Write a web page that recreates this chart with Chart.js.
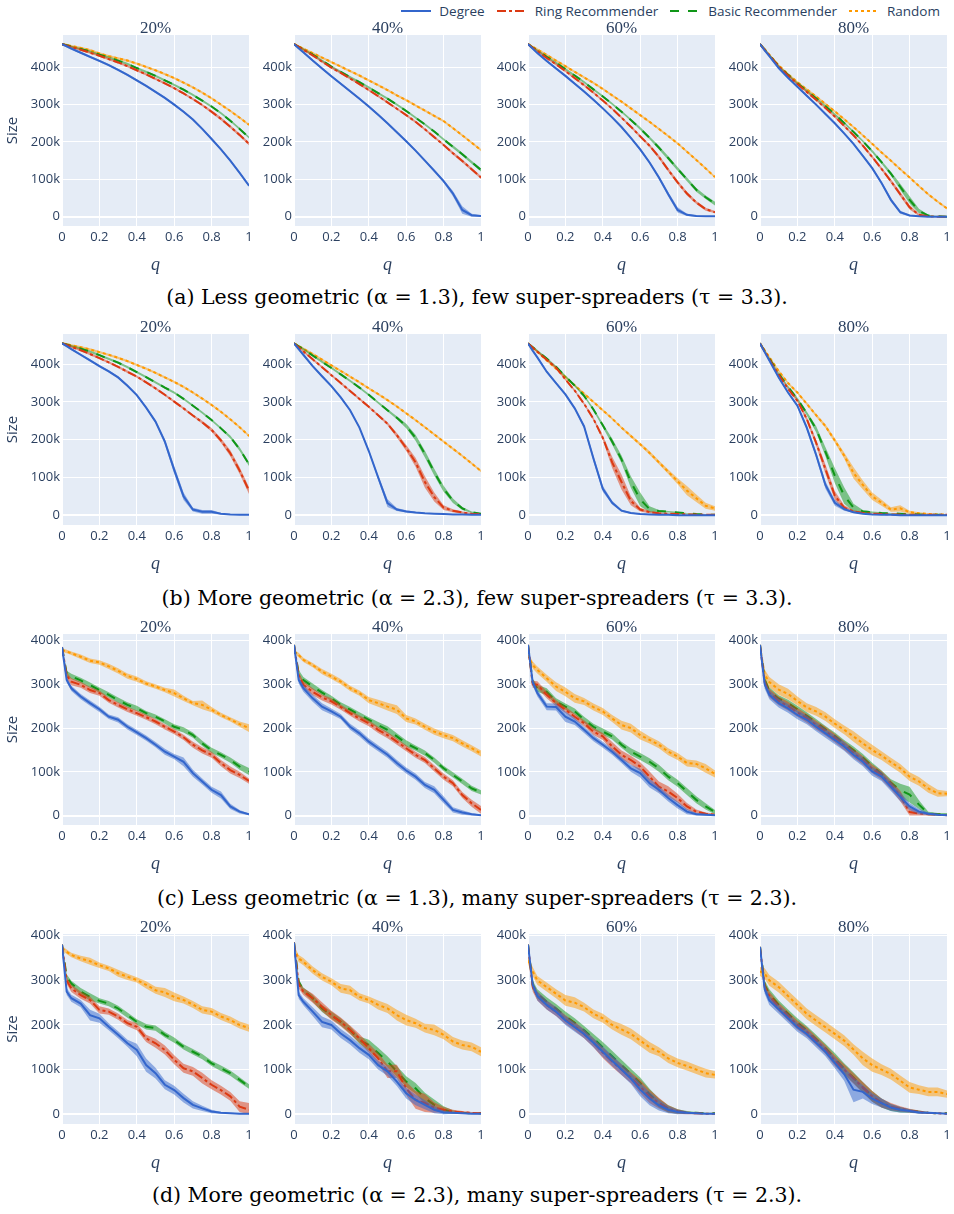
<!DOCTYPE html>
<html>
<head>
<meta charset="utf-8">
<script src="https://cdn.jsdelivr.net/npm/chart.js@4.4.0/dist/chart.umd.min.js"></script>
<style>
	body { margin: 0; background: #fff; width: 954px; height: 1214px; position: relative; overflow: hidden; font-family: "Open Sans", sans-serif; }
	canvas { position: absolute; }
	.ptitle { position: absolute; width: 120px; text-align: center; font-family: "Liberation Serif", serif; font-size: 17px; line-height: 16px; color: #2a3f5f; }
	.caption { position: absolute; left: 0; width: 954px; text-align: center; font-family: "DejaVu Serif", serif; font-size: 20.5px; line-height: 26px; color: #000; }
	#legend { position: absolute; top: 2px; right: 14px; display: flex; align-items: center; font-size: 13.5px; color: #2a3f5f; }
	#legend .item { display: flex; align-items: center; margin-left: 12px; }
	#legend svg { margin-right: 8px; }
</style>
</head>
<body>
<div id="legend"></div>
<script>
// ---- data (sizes in thousands) ----
var Q = [0, 0.025, 0.05, 0.1, 0.15, 0.2, 0.25, 0.3, 0.35, 0.4, 0.45, 0.5, 0.55, 0.6, 0.65, 0.7, 0.75, 0.8, 0.85, 0.9, 0.95, 1];
var SERIES_NAMES = ['Degree', 'Ring Recommender', 'Basic Recommender', 'Random'];
var SERIES_KEYS = ['deg', 'ring', 'basic', 'rand'];
var ROW_KEYS = ['a', 'b', 'c', 'd'];
var PANEL_TITLES = ['20%', '40%', '60%', '80%'];
var X_TICKS = [0, 0.2, 0.4, 0.6, 0.8, 1];
var Y_TICKS = [0, 100, 200, 300, 400];
var CAPTIONS = [
	'(a) Less geometric (α = 1.3), few super-spreaders (τ = 3.3).',
	'(b) More geometric (α = 2.3), few super-spreaders (τ = 3.3).',
	'(c) Less geometric (α = 1.3), many super-spreaders (τ = 2.3).',
	'(d) More geometric (α = 2.3), many super-spreaders (τ = 2.3).'
];

// (a) less geometric, few super-spreaders
var a20_deg = [462,456,450,439,428, 417,406,393,380,365, 350,334,318,300,281, 260,235,208,180,150, 117,83];
var a20_deg_e = [3,3,3,3,3, 3,3,3,3,3, 3,3,3,3,3, 3,3,3,3,3, 3,3];
var a20_ring = [462,458,454,447,439, 431,422,413,403,392, 381,369,357,344,330, 315,299,281,262,241, 219,195];
var a20_ring_e = [3,3,3,3,3, 3,3,3,3,3, 3,3,3,3,3, 3,3,4,4,4, 4,4];
var a20_basic = [462,459,455,449,442, 434,426,418,409,398, 388,377,365,353,340, 326,311,295,277,257, 235,212];
var a20_basic_e = [3,3,3,3,3, 3,3,3,3,3, 3,3,3,3,3, 3,3,3,3,3, 3,3];
var a20_rand = [462,460,457,452,446, 437,430,424,418,410, 401,392,382,371,359, 346,332,317,300,283, 265,246];
var a20_rand_e = [3,3,3,3,3, 3,3,3,3,3, 3,3,3,3,3, 3,3,3,3,3, 3,3];

var a40_deg = [462,451,440,418,397, 376,356,336,316,295, 273,250,226,202,177, 150,123,95,62,18, 4,2];
var a40_deg_e = [3,3,3,3,3, 3,3,3,3,3, 3,3,3,3,3, 3,3,4,7,10, 4,2];
var a40_ring = [462,455,447,432,415, 399,385,370,355,339, 323,306,289,272,254, 234,213,192,170,149, 127,105];
var a40_ring_e = [3,3,3,3,3, 3,3,3,3,3, 3,3,3,3,3, 3,3,3,4,4, 4,4];
var a40_basic = [462,455,448,434,418, 402,388,374,360,346, 331,316,300,283,265, 247,228,207,187,167, 146,125];
var a40_basic_e = [3,3,3,3,3, 3,3,3,3,3, 3,3,3,3,3, 3,3,3,4,4, 4,4];
var a40_rand = [462,456,450,438,426, 414,402,390,378,365, 352,339,325,312,298, 284,270,256,237,218, 198,178];
var a40_rand_e = [3,3,3,3,3, 3,3,3,3,3, 3,3,3,3,3, 3,3,3,3,3, 3,3];

var a60_deg = [462,450,438,417,397, 377,356,335,313,290, 266,240,211,180,145, 105,60,18,5,2, 1,1];
var a60_deg_e = [3,3,3,3,3, 3,3,3,3,3, 3,3,3,4,4, 5,6,7,3,2, 1,1];
var a60_ring = [462,452,443,425,408, 390,371,352,332,311, 289,265,241,215,190, 160,125,92,62,38, 20,12];
var a60_ring_e = [3,3,3,3,3, 3,3,3,3,3, 3,3,3,4,4, 5,5,5,5,4, 4,3];
var a60_basic = [462,453,445,428,412, 395,378,360,341,322, 302,281,259,236,211, 185,157,128,100,72, 52,35];
var a60_basic_e = [3,3,3,3,3, 3,3,3,3,3, 3,3,3,4,4, 5,5,5,5,5, 5,5];
var a60_rand = [462,455,448,433,418, 403,388,373,358,342, 325,308,290,272,254, 235,216,196,174,152, 129,106];
var a60_rand_e = [3,3,3,3,3, 3,3,3,3,3, 3,3,3,3,3, 3,3,3,3,3, 3,3];

var a80_deg = [462,445,430,398,372, 348,324,300,275,250, 223,195,163,130,90, 45,12,3,1,0, 0,0];
var a80_deg_e = [3,3,3,3,3, 3,3,3,3,3, 3,3,3,4,4, 5,4,2,1,0, 0,0];
var a80_ring = [462,447,432,402,378, 355,334,313,291,268, 243,218,190,160,128, 95,60,25,5,1, 0,0];
var a80_ring_e = [3,3,3,3,3, 3,3,3,3,3, 3,3,3,4,4, 5,6,6,3,1, 0,0];
var a80_basic = [462,448,433,403,380, 357,337,317,296,274, 251,227,202,175,146, 115,80,45,15,3, 1,0];
var a80_basic_e = [3,3,3,3,3, 3,3,3,3,3, 3,3,3,4,4, 5,8,10,6,2, 1,0];
var a80_rand = [462,448,434,405,382, 360,341,322,302,282, 261,240,218,195,172, 150,127,105,82,60, 40,22];
var a80_rand_e = [3,3,3,3,3, 3,3,3,3,3, 3,3,3,3,3, 3,3,3,3,3, 3,3];

// (b) more geometric, few super-spreaders
var b20_deg = [455,448,440,425,410, 395,381,365,343,318, 285,248,195,120,50, 15,9,9,4,2, 1,1];
var b20_deg_e = [3,3,3,3,3, 3,3,3,3,3, 3,4,7,10,10, 5,5,5,2,1, 1,1];
var b20_ring = [455,451,446,437,427, 416,405,393,380,367, 352,336,319,301,283, 264,246,226,198,164, 118,65];
var b20_ring_e = [3,3,3,3,3, 3,3,3,3,3, 3,3,3,3,3, 3,4,5,6,8, 9,9];
var b20_basic = [455,452,448,441,433, 424,414,404,392,379, 366,352,338,325,308, 290,272,252,230,207, 175,135];
var b20_basic_e = [3,3,3,3,3, 3,3,3,3,3, 3,3,3,3,3, 3,3,3,3,4, 5,5];
var b20_rand = [455,453,450,445,439, 432,425,417,408,398, 388,377,365,353,340, 325,309,292,274,254, 233,210];
var b20_rand_e = [3,3,3,3,3, 3,3,3,3,3, 3,3,3,3,3, 3,3,3,3,3, 3,3];

var b40_deg = [455,440,425,395,368, 342,312,278,232,170, 100,32,15,10,7, 5,4,3,2,2, 1,1];
var b40_deg_e = [3,3,3,3,3, 3,3,3,3,4, 6,10,4,3,2, 1,1,1,1,1, 1,1];
var b40_ring = [455,445,434,413,392, 371,350,329,308,287, 265,242,212,178,140, 88,48,20,12,7, 4,3];
var b40_ring_e = [3,3,3,3,3, 3,3,3,3,3, 3,4,6,8,12, 15,12,6,4,3, 2,1];
var b40_basic = [455,447,440,423,406, 390,373,356,338,319, 298,278,258,236,205, 162,114,70,38,18, 8,4];
var b40_basic_e = [3,3,3,3,3, 3,3,3,3,3, 3,3,4,6,8, 9,9,8,6,4, 2,1];
var b40_rand = [455,448,441,427,412, 397,382,367,352,336, 321,305,288,270,252, 233,214,195,176,157, 137,117];
var b40_rand_e = [3,3,3,3,3, 3,3,3,3,3, 3,3,3,3,3, 3,3,3,3,3, 3,3];

var b60_deg = [455,436,418,380,350, 320,283,235,150,70, 33,12,6,3,2, 1,1,0,0,0, 0,0];
var b60_deg_e = [3,3,3,3,3, 3,3,5,8,8, 5,3,2,1,1, 1,1,0,0,0, 0,0];
var b60_ring = [455,444,433,412,391, 360,330,295,255,205, 140,88,38,15,8, 5,4,3,2,2, 1,1];
var b60_ring_e = [3,3,3,3,3, 3,3,3,4,6, 15,20,12,5,3, 2,1,1,1,1, 1,1];
var b60_basic = [455,445,435,415,393, 368,343,316,280,238, 195,148,88,42,16, 11,9,7,5,3, 2,1];
var b60_basic_e = [3,3,3,3,3, 3,3,3,4,5, 8,10,15,18,8, 3,2,2,1,1, 1,1];
var b60_rand = [455,444,433,410,388, 366,344,322,300,278, 256,232,210,188,165, 140,115,90,65,45, 25,18];
var b60_rand_e = [3,3,3,3,3, 3,3,3,3,3, 3,3,4,4,5, 5,6,8,12,10, 8,6];

var b80_deg = [455,432,410,365,325, 290,232,160,80,33, 16,8,4,2,1, 1,0,0,0,0, 0,0];
var b80_deg_e = [3,3,3,3,3, 4,6,8,10,8, 4,2,1,1,1, 1,0,0,0,0, 0,0];
var b80_ring = [455,434,413,372,335, 303,255,192,122,52, 20,10,6,4,3, 2,2,1,1,1, 1,1];
var b80_ring_e = [3,3,3,3,3, 4,6,8,12,12, 6,3,2,1,1, 1,1,1,1,1, 1,1];
var b80_basic = [455,435,415,375,340, 308,270,228,168,105, 52,20,10,8,6, 5,4,3,2,1, 1,1];
var b80_basic_e = [3,3,3,3,3, 4,5,8,12,20, 22,10,4,2,2, 1,1,1,1,1, 1,1];
var b80_rand = [455,437,419,382,350, 325,295,265,236,198, 158,112,80,50,33, 15,18,8,5,3, 2,2];
var b80_rand_e = [3,3,3,3,3, 3,4,4,5,6, 8,15,12,10,8, 6,8,4,3,2, 1,1];

// (c) less geometric, many super-spreaders
var c20_deg = [385,310,291,272,257, 243,226,219,203,190, 177,162,146,135,123, 97,78,59,47,21, 9,3];
var c20_deg_e = [2,6,6,6,6, 6,5,6,6,6, 6,6,7,6,10, 8,7,7,8,6, 4,2];
var c20_ring = [385,320,306,299,287, 280,264,253,243,234, 225,215,203,192,179, 162,149,139,120,104, 93,79];
var c20_ring_e = [2,8,8,7,7, 6,6,6,6,6, 6,6,6,6,6, 7,7,7,7,8, 7,6];
var c20_basic = [385,325,318,309,298, 287,276,264,253,245, 234,226,215,203,196, 184,165,149,139,127, 112,101];
var c20_basic_e = [2,6,6,6,6, 6,6,6,6,6, 5,5,5,6,6, 6,6,6,6,6, 7,8];
var c20_rand = [378,375,371,363,354, 350,341,331,319,312, 302,295,287,280,268, 257,253,242,230,220, 209,200];
var c20_rand_e = [4,4,4,5,5, 5,6,6,6,6, 5,5,5,8,6, 5,10,6,5,5, 6,9];

var c40_deg = [390,310,291,268,249, 238,226,203,188,169, 154,139,120,103,89, 70,59,36,13,7, 3,1];
var c40_deg_e = [2,8,8,8,8, 7,6,7,7,7, 7,7,7,7,7, 7,8,8,6,5, 3,1];
var c40_ring = [390,320,299,283,270, 261,248,234,222,211, 196,184,169,154,139, 127,108,89,74,47, 28,13];
var c40_ring_e = [2,8,8,8,7, 7,6,6,7,7, 7,7,7,7,7, 7,7,7,7,7, 8,9];
var c40_basic = [390,325,310,295,281, 268,253,242,230,219, 207,196,181,165,154, 143,127,108,93,78, 62,53];
var c40_basic_e = [2,8,7,7,6, 6,6,6,6,6, 7,8,7,7,6, 6,6,6,6,6, 6,5];
var c40_rand = [375,367,356,344,329, 318,306,291,280,264, 257,249,242,222,215, 203,192,184,177,165, 154,142];
var c40_rand_e = [4,5,5,5,6, 6,6,6,6,7, 8,9,10,8,7, 7,7,7,7,7, 7,7];

var c60_deg = [390,305,280,249,248, 226,215,196,177,162, 146,127,108,97,74, 59,40,24,9,3, 2,1];
var c60_deg_e = [2,8,8,8,8, 12,8,7,7,7, 7,7,8,10,10, 8,8,8,6,3, 2,1];
var c60_ring = [390,300,299,276,257, 242,226,211,192,181, 158,139,127,112,89, 66,55,40,21,9, 4,2];
var c60_ring_e = [2,8,8,8,7, 7,7,7,8,8, 10,10,10,10,12, 12,12,10,8,5, 3,2];
var c60_basic = [390,305,291,283,261, 249,238,219,203,192, 181,162,146,135,123, 108,89,74,55,36, 21,8];
var c60_basic_e = [2,8,8,8,7, 7,7,7,7,7, 7,7,8,8,8, 8,8,8,8,8, 7,5];
var c60_rand = [367,344,333,314,295, 283,268,261,248,238, 222,207,200,184,173, 162,146,135,120,118, 108,95];
var c60_rand_e = [6,8,8,8,10, 10,10,8,8,8, 8,10,10,10,8, 8,8,8,8,8, 10,8];

var c80_deg = [390,300,276,257,245, 230,219,203,188,173, 158,139,123,101,89, 66,43,21,9,4, 2,1];
var c80_deg_e = [2,10,10,10,10, 10,10,10,10,10, 10,10,10,10,10, 10,10,8,6,3, 2,1];
var c80_ring = [390,305,280,262,250, 236,222,207,193,177, 160,143,126,107,92, 70,45,8,5,3, 2,1];
var c80_ring_e = [2,10,10,10,10, 10,10,10,10,10, 10,10,10,10,10, 10,12,10,5,3, 2,1];
var c80_basic = [390,310,285,267,257, 243,228,213,197,182, 165,150,133,113,95, 75,58,48,25,5, 3,3];
var c80_basic_e = [2,8,8,8,8, 8,8,8,8,8, 8,8,8,8,8, 8,15,18,10,4, 3,3];
var c80_rand = [385,322,305,288,278, 262,247,238,226,210, 196,181,165,150,137, 122,108,89,78,62, 51,50];
var c80_rand_e = [4,12,12,12,12, 10,10,10,10,10, 10,12,12,12,10, 10,10,10,10,10, 8,6];

// (d) more geometric, many super-spreaders
var d20_deg = [380,275,260,248,222, 215,196,178,159,144, 110,92,66,54,36, 21,13,6,3,2, 1,1];
var d20_deg_e = [2,8,8,8,12, 10,8,8,8,14, 15,12,10,10,10, 8,6,4,2,1, 1,1];
var d20_ring = [380,300,282,267,256, 234,230,219,204,196, 170,159,144,122,103, 96,81,66,54,40, 17,10];
var d20_ring_e = [2,8,8,8,8, 8,7,7,7,8, 8,10,10,10,10, 10,12,10,10,10, 12,15];
var d20_basic = [380,308,293,275,263, 254,248,237,222,207, 196,193,178,166,151, 140,129,114,103,92, 77,62];
var d20_basic_e = [2,6,6,8,8, 6,6,6,6,6, 6,6,6,6,6, 6,6,6,6,6, 6,5];
var d20_rand = [372,364,357,349,343, 334,327,316,308,301, 290,278,273,263,256, 246,234,230,219,211, 200,193];
var d20_rand_e = [5,5,5,6,8, 6,6,8,7,6, 8,8,10,10,8, 8,8,8,8,8, 8,8];

var d40_deg = [385,267,252,230,207, 200,181,166,148,133, 110,96,73,47,32, 21,10,4,3,2, 1,1];
var d40_deg_e = [2,8,8,10,12, 10,10,10,10,10, 10,10,10,12,12, 10,8,4,2,1, 1,1];
var d40_ring = [385,290,275,260,241, 222,207,189,170,148, 125,96,96,58,32, 25,15,10,6,4, 3,2];
var d40_ring_e = [2,8,8,10,10, 10,10,10,10,10, 12,15,15,15,20, 20,12,6,4,3, 2,1];
var d40_basic = [385,297,278,260,237, 222,207,189,166,155, 137,118,96,73,58, 36,21,10,5,3, 2,2];
var d40_basic_e = [2,6,6,8,8, 8,8,8,8,12, 12,12,12,12,12, 12,12,8,4,2, 1,1];
var d40_rand = [372,349,342,323,308, 297,282,278,263,256, 245,237,222,211,204, 193,189,178,163,155, 151,140];
var d40_rand_e = [6,8,8,8,8, 8,10,10,8,8, 10,10,12,12,10, 10,12,10,10,10, 10,10];

var d60_deg = [380,290,265,245,230, 210,195,180,160,140, 120,100,80,55,35, 20,10,5,3,2, 1,1];
var d60_deg_e = [2,8,10,10,10, 10,10,10,10,12, 12,12,12,15,15, 12,8,5,3,2, 1,1];
var d60_ring = [380,285,265,245,230, 212,197,180,160,138, 118,100,82,62,40, 25,12,6,3,2, 1,1];
var d60_ring_e = [2,10,10,10,10, 10,10,10,10,12, 12,12,12,15,15, 12,8,5,3,2, 1,1];
var d60_basic = [380,290,270,252,237, 220,205,188,170,150, 130,110,90,70,45, 25,12,6,4,3, 2,2];
var d60_basic_e = [2,10,10,10,10, 10,10,10,10,12, 12,12,12,12,12, 10,8,5,3,2, 1,1];
var d60_rand = [345,320,300,285,270, 255,250,240,225,215, 200,190,180,165,150, 140,125,115,108,100, 92,88];
var d60_rand_e = [8,10,10,10,10, 12,12,10,10,10, 10,12,12,12,12, 10,10,10,10,10, 10,8];

var d80_deg = [375,280,255,235,215, 195,180,160,140,115, 90,55,50,35,25, 15,10,7,4,3, 2,1];
var d80_deg_e = [2,10,10,10,10, 10,10,10,10,12, 15,28,15,12,10, 8,6,4,3,2, 1,1];
var d80_ring = [375,285,265,240,220, 200,185,165,145,120, 100,80,60,40,25, 17,12,8,5,3, 2,1];
var d80_ring_e = [2,10,10,10,10, 10,10,10,10,12, 12,12,12,12,10, 8,6,4,3,2, 1,1];
var d80_basic = [375,290,270,245,225, 205,188,168,148,125, 102,82,60,40,25, 15,10,7,5,3, 2,2];
var d80_basic_e = [2,10,10,10,10, 10,10,10,10,12, 12,12,12,12,10, 8,6,4,3,2, 1,1];
var d80_rand = [320,315,300,285,265, 245,225,210,195,180, 165,145,125,110,100, 90,75,60,55,50, 50,45];
var d80_rand_e = [10,12,12,12,12, 12,12,12,12,12, 12,12,15,15,12, 12,12,12,10,10, 10,8];

// ---- layout / style ----
var COL_LEFT = [62, 294, 528, 760];   // plot area left edges
var PLOT_W = 187;
var ROW_TOP = [35, 334, 634, 934];    // plot area top edges
var PLOT_H = [191, 191, 191, 190];
var Y_RANGE = [[-25, 486.5], [-26, 480], [-21.5, 415], [-22, 404]];
var CAPTION_Y = [297, 598, 898, 1195];
var PAD_TOP = 10, PAD_RIGHT = 10, X_AXIS_H = 50;
var INK = '#2a3f5f';

var STYLES = [
	{ color: '#3366CC', band: 'rgba(51,102,204,0.5)', dash: [] },
	{ color: '#DC3912', band: 'rgba(220,57,18,0.5)', dash: [9, 3, 3, 3] },
	{ color: '#109618', band: 'rgba(16,150,24,0.5)', dash: [9, 9] },
	{ color: '#FF9900', band: 'rgba(255,153,0,0.5)', dash: [3, 3] }
];

// paints the plotly-like background behind the plot area
var plotBg = {
	id: 'plotBg',
	beforeDraw: function(chart) {
		var a = chart.chartArea, ctx = chart.ctx;
		ctx.save();
		ctx.fillStyle = '#E5ECF6';
		ctx.fillRect(a.left, a.top, a.right - a.left, a.bottom - a.top);
		ctx.restore();
	}
};

function pts(ys) {
	return Q.map(function(q, i) { return { x: q, y: ys[i] }; });
}

function makePanel(r, ri, ci) {
	var key = r + PANEL_TITLES[ci].replace('%', '');
	var yW = ci === 0 ? 62 : 46;
	var w = yW + PLOT_W + PAD_RIGHT;
	var h = PAD_TOP + PLOT_H[ri] + X_AXIS_H;
	var cv = document.createElement('canvas');
	cv.width = w; cv.height = h;
	cv.style.left = (COL_LEFT[ci] - yW) + 'px';
	cv.style.top = (ROW_TOP[ri] - PAD_TOP) + 'px';
	cv.style.width = w + 'px';
	cv.style.height = h + 'px';
	document.body.appendChild(cv);

	var datasets = [];
	SERIES_KEYS.forEach(function(s, si) {
		var mean = window[key + '_' + s];
		var err = window[key + '_' + s + '_e'];
		var hi = mean.map(function(v, i) { return v + err[i]; });
		var lo = mean.map(function(v, i) { return Math.max(0, v - err[i]); });
		var st = STYLES[si];
		datasets.push({ data: pts(mean), borderColor: st.color, borderWidth: 2, borderDash: st.dash, fill: false });
		datasets.push({ data: pts(hi), borderWidth: 0, borderColor: 'rgba(0,0,0,0)', backgroundColor: st.band, fill: '+1' });
		datasets.push({ data: pts(lo), borderWidth: 0, borderColor: 'rgba(0,0,0,0)', fill: false });
	});

	new Chart(cv, {
		type: 'line',
		data: { datasets: datasets },
		plugins: [plotBg],
		options: {
			responsive: false,
			animation: false,
			events: [],
			devicePixelRatio: 1,
			layout: { autoPadding: false, padding: { top: PAD_TOP, right: PAD_RIGHT, bottom: 0, left: 0 } },
			plugins: { legend: { display: false }, tooltip: { enabled: false } },
			elements: { point: { radius: 0 }, line: { tension: 0 } },
			scales: {
				x: {
					type: 'linear', min: 0, max: 1,
					afterBuildTicks: function(s) { s.ticks = X_TICKS.map(function(v) { return { value: v }; }); },
					ticks: { color: INK, font: { family: 'Open Sans', size: 13 }, padding: 3, maxRotation: 0, autoSkip: false,
						callback: function(v) { return String(v); } },
					grid: { color: '#ffffff', lineWidth: 1, drawTicks: false },
					border: { display: false },
					title: { display: true, text: 'q', color: INK, padding: 0,
						font: { family: 'Liberation Serif', style: 'italic', size: 18 } },
					afterFit: function(s) { s.height = X_AXIS_H; }
				},
				y: {
					min: Y_RANGE[ri][0], max: Y_RANGE[ri][1],
					afterBuildTicks: function(s) { s.ticks = Y_TICKS.map(function(v) { return { value: v }; }); },
					ticks: { color: INK, font: { family: 'Open Sans', size: 13 }, padding: 2,
						callback: function(v) { return v === 0 ? '0' : v + 'k'; } },
					grid: { color: '#ffffff', drawTicks: false,
						lineWidth: function(ctx) { return ctx.tick && ctx.tick.value === 0 ? 2 : 1; } },
					border: { display: false },
					title: { display: ci === 0, text: 'Size', color: INK, padding: { top: 4, bottom: 0 },
						font: { family: 'Open Sans', size: 15 } },
					afterFit: function(s) { s.width = yW; }
				}
			}
		}
	});

	var t = document.createElement('div');
	t.className = 'ptitle';
	t.textContent = PANEL_TITLES[ci];
	t.style.left = (COL_LEFT[ci] + PLOT_W / 2 - 60) + 'px';
	t.style.top = (ROW_TOP[ri] - 15) + 'px';
	document.body.appendChild(t);
}

ROW_KEYS.forEach(function(r, ri) {
	for (var ci = 0; ci < PANEL_TITLES.length; ci++) makePanel(r, ri, ci);
	var cap = document.createElement('div');
	cap.className = 'caption';
	cap.textContent = CAPTIONS[ri];
	cap.style.top = (CAPTION_Y[ri] - 13) + 'px';
	document.body.appendChild(cap);
});

// legend across the top right
var leg = document.getElementById('legend');
SERIES_NAMES.forEach(function(name, i) {
	var st = STYLES[i];
	var item = document.createElement('span');
	item.className = 'item';
	item.innerHTML = '<svg width="30" height="6"><line x1="0" y1="3" x2="30" y2="3" stroke="' + st.color +
		'" stroke-width="2" stroke-dasharray="' + (st.dash.length ? st.dash.join(',') : 'none') + '"/></svg>';
	var txt = document.createElement('span');
	txt.textContent = name;
	item.appendChild(txt);
	leg.appendChild(item);
});
</script>
</body>
</html>
